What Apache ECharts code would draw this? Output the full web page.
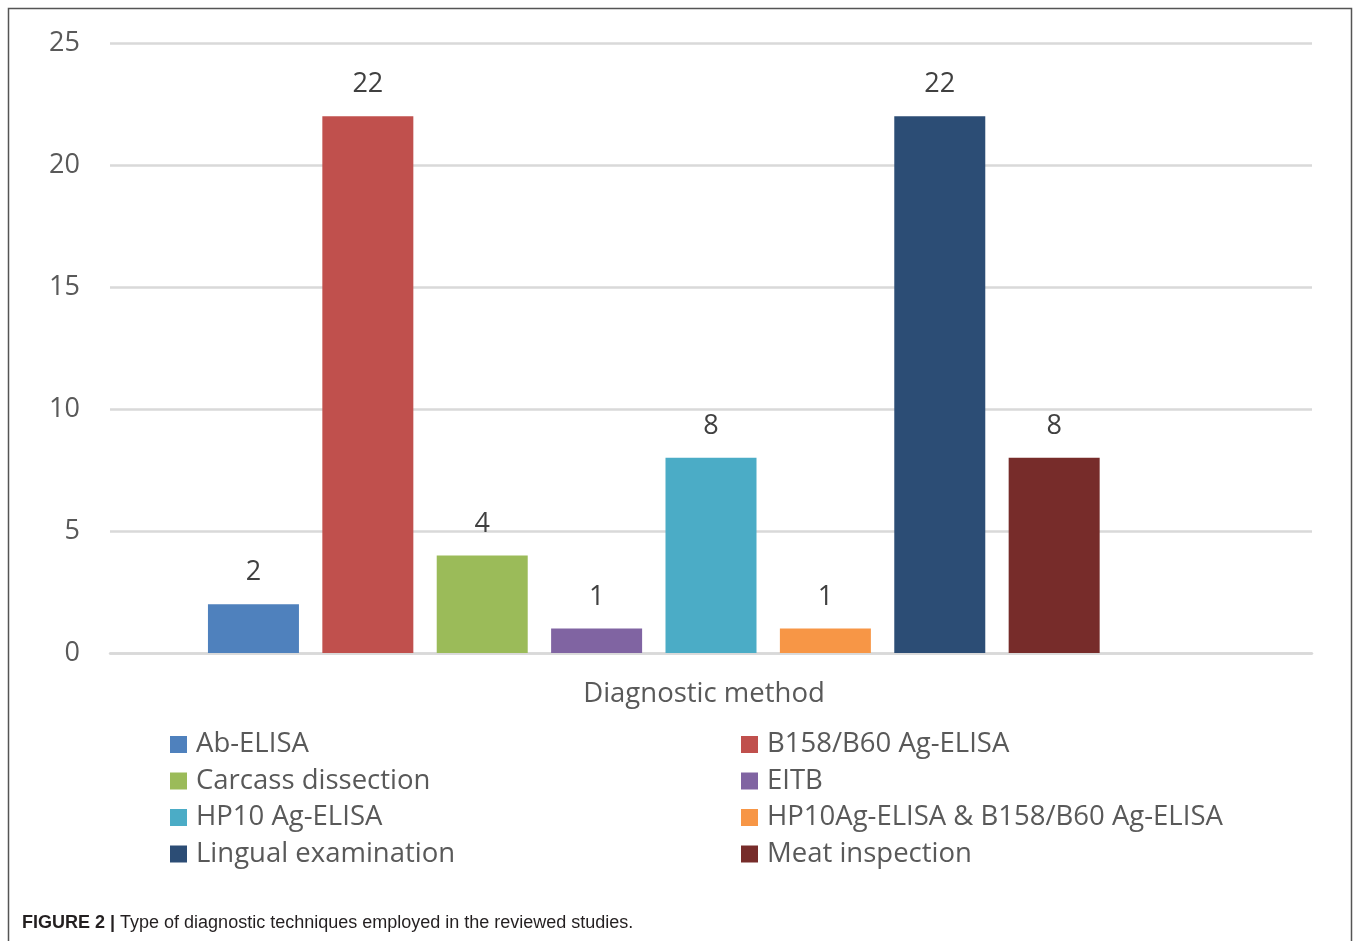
<!DOCTYPE html>
<html>
<head>
<meta charset="utf-8">
<style>
  html, body { margin: 0; padding: 0; background: #fff; }
  #chart { width: 1358px; height: 941px; }
</style>
<script src="https://cdn.jsdelivr.net/npm/echarts@6/dist/echarts.min.js"></script>
</head>
<body>
<div id="chart"></div>
<script>
// Diagnostic methods and number of studies using each
const methods = [
  'Ab-ELISA',
  'B158/B60 Ag-ELISA',
  'Carcass dissection',
  'EITB',
  'HP10 Ag-ELISA',
  'HP10Ag-ELISA & B158/B60 Ag-ELISA',
  'Lingual examination',
  'Meat inspection'
];
const studyCounts = [2, 22, 4, 1, 8, 1, 22, 8];
const methodColors = ['#4F81BD', '#C0504D', '#9BBB59', '#8064A2', '#4BACC6', '#F79646', '#2C4D75', '#772C2A'];
const yTicks = [0, 5, 10, 15, 20, 25];
const axisTitle = 'Diagnostic method';
const captionBold = 'FIGURE 2 |';
const captionText = ' Type of diagnostic techniques employed in the reviewed studies.';

const FONT = '"Open Sans", "Noto Sans", sans-serif';
const CAPTION_FONT = '"Liberation Sans", Arial, sans-serif';

const chart = echarts.init(document.getElementById('chart'), null, { renderer: 'canvas' });

const series = methods.map((name, i) => ({
  name,
  type: 'bar',
  data: [studyCounts[i]],
  barWidth: 91,
  barGap: '25.7%',
  itemStyle: { color: methodColors[i] },
  label: {
    show: true,
    position: 'top',
    distance: 18,
    fontFamily: FONT,
    fontSize: 27,
    color: '#404040'
  }
}));
// empty trailing slot in the cluster (keeps the group layout of the source workbook)
series.push({ name: '', type: 'bar', data: [null], barWidth: 91, silent: true });

const legendStyle = {
  orient: 'vertical',
  icon: 'rect',
  padding: 0,
  itemWidth: 17,
  itemHeight: 17,
  itemGap: 8.5,
  textStyle: { fontFamily: FONT, fontSize: 27.5, color: '#595959', padding: [0, 0, 0, 4] },
  selectedMode: false
};

chart.setOption({
  animation: false,
  backgroundColor: '#fff',
  grid: { left: 110, right: 46, top: 43, bottom: 288 },
  xAxis: {
    type: 'category',
    data: [''],
    axisTick: { show: false },
    axisLabel: { show: false },
    axisLine: { show: true, lineStyle: { color: '#d9d9d9', width: 2.5 } },
    name: axisTitle,
    nameLocation: 'middle',
    nameGap: 27,
    nameTextStyle: { fontFamily: FONT, fontSize: 27.5, color: '#595959', padding: [0, 14, 0, 0] }
  },
  yAxis: {
    type: 'value',
    min: yTicks[0],
    max: yTicks[yTicks.length - 1],
    interval: yTicks[1] - yTicks[0],
    axisLine: { show: false },
    axisTick: { show: false },
    axisLabel: { fontFamily: FONT, fontSize: 27, color: '#595959', margin: 30 },
    splitLine: { lineStyle: { color: '#d9d9d9', width: 2.5 } }
  },
  legend: [
    Object.assign({ left: 170, top: 730.5, data: methods.filter((_, i) => i % 2 === 0) }, legendStyle),
    Object.assign({ left: 741, top: 730.5, data: methods.filter((_, i) => i % 2 === 1) }, legendStyle)
  ],
  title: {
    left: 22,
    top: 914,
    padding: 0,
    text: '{b|' + captionBold + '}{r|' + captionText + '}',
    textStyle: {
      fontWeight: 'normal',
      rich: {
        b: { fontFamily: CAPTION_FONT, fontSize: 18, fontWeight: 'bold', color: '#231f20' },
        r: { fontFamily: CAPTION_FONT, fontSize: 18, fontWeight: 'normal', color: '#231f20' }
      }
    }
  },
  graphic: [{
    type: 'rect',
    shape: { x: 8.5, y: 8.5, width: 1343, height: 960 },
    style: { fill: 'none', stroke: '#555', lineWidth: 1.5 },
    silent: true
  }],
  series
});
</script>
</body>
</html>
